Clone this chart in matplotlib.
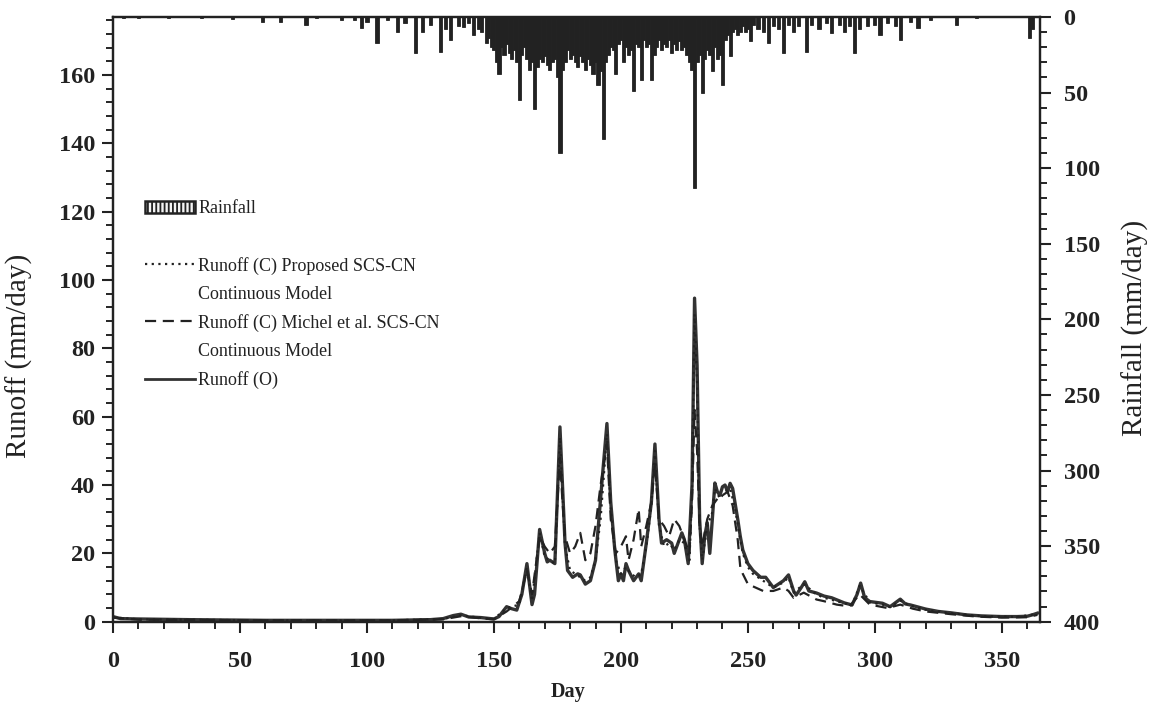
import matplotlib
matplotlib.use("Agg")
import matplotlib.pyplot as plt
from matplotlib.lines import Line2D
from matplotlib.patches import Patch
from matplotlib.ticker import MultipleLocator

plt.rcParams['font.family'] = ['Liberation Serif', 'DejaVu Serif']
plt.rcParams['hatch.linewidth'] = 1.3

# daily rainfall (mm/day), only the days with rain
rain_day = [4, 10, 22, 35, 47, 59, 66, 76, 80, 90, 95, 98, 100, 104, 108, 112, 115, 119, 122,
            125, 129, 131, 133, 136, 138, 140, 142, 144, 145, 147, 148, 149, 150, 151, 152, 153,
            154, 155, 156, 157, 158, 159, 160, 161, 162, 163, 164, 165, 166, 167, 168, 169, 170,
            171, 172, 173, 174, 175, 176, 177, 178, 179, 180, 181, 182, 183, 184, 185, 186, 187,
            188, 189, 190, 191, 192, 193, 194, 195, 196, 197, 198, 199, 200, 201, 202, 203, 204,
            205, 206, 207, 208, 209, 210, 211, 212, 213, 214, 215, 216, 217, 218, 219, 220, 221,
            222, 223, 224, 225, 226, 227, 228, 229, 230, 231, 232, 233, 234, 235, 236, 237, 238,
            239, 240, 241, 242, 243, 244, 245, 246, 247, 248, 249, 250, 251, 252, 254, 256, 258,
            260, 262, 264, 266, 268, 270, 273, 275, 278, 281, 283, 286, 288, 290, 292, 294, 297,
            300, 302, 305, 308, 310, 314, 317, 322, 332, 340, 361, 362]
rain_mm = [1, 1, 1, 1, 1.5, 3, 3, 5, 1, 2, 2, 7, 3, 17, 2, 10, 4, 24, 10,
           5, 23, 8, 15, 6, 6.5, 4, 12, 8, 10, 17, 14, 20, 22, 30, 38, 20,
           25, 18, 24, 28, 22, 30, 55, 25, 20, 28, 35, 30, 61, 33, 28, 30, 26,
           32, 35, 30, 28, 40, 90, 35, 30, 22, 28, 25, 30, 33, 26, 30, 35, 28,
           32, 38, 30, 45, 36, 81, 30, 25, 20, 22, 38, 18, 15, 30, 20, 25, 22,
           49, 18, 20, 42, 15, 20, 18, 42, 25, 20, 15, 22, 18, 20, 15, 24, 18,
           22, 16, 22, 20, 25, 30, 35, 113, 30, 25, 50, 28, 22, 25, 36, 20, 28,
           25, 45, 15, 12, 26, 10, 8, 12, 10, 6, 10, 8, 16, 5, 8, 10, 17,
           6, 8, 24, 5, 10, 6, 23, 5, 8, 4, 10.6, 5, 10, 6, 24, 8, 6,
           5, 12, 4, 6, 15, 3, 7.5, 2, 5, 1, 14, 8]

# observed runoff (mm/day)
obs_day = [0, 3, 10, 30, 60, 90, 110, 125, 130, 134, 137, 140, 145, 150, 152, 155, 157, 159,
           161, 163, 165, 166, 168, 170, 171, 172, 174, 176, 177, 178, 179, 181, 183, 184, 186,
           188, 190, 191, 193, 194.5, 196, 197.6, 199, 200, 201, 202, 203, 205, 207, 208, 210,
           212, 213.4, 215, 216, 218, 220, 221, 222, 224, 225, 226.5, 228, 229, 230, 231, 232,
           233, 234, 235, 236, 237, 238, 239, 240, 241, 242, 243, 244, 246, 247, 248, 250, 252,
           255, 257, 260, 262, 264, 266, 268, 269, 271, 272.4, 274, 277, 280, 283, 285, 288, 291,
           293, 294.4, 296, 298, 303, 306, 308, 310, 312, 314, 320, 325, 330, 336, 342, 350, 356,
           360, 362, 364]
obs_q = [1.5, 0.9, 0.8, 0.6, 0.4, 0.4, 0.4, 0.6, 0.9, 1.8, 2.2, 1.4, 1.2, 0.8, 1.5, 4.4, 3.8, 3.4,
         8, 17, 5, 8, 27, 20, 17.5, 18, 17, 57, 40, 23, 15, 13, 14, 13.7, 11,
         12, 18, 27, 45, 58, 35, 21, 12, 14, 12, 17, 15, 12, 14, 12, 23,
         35, 52, 30, 23, 24, 23, 20, 22, 26, 24, 17, 40, 94.7, 75, 30, 17,
         25, 29, 20, 30, 40.6, 38, 37, 39.5, 40, 38, 40.5, 39, 30, 25, 21, 17, 15,
         13, 13, 10, 11, 12, 13.7, 9, 7.8, 10, 11.7, 9, 8.4, 7.5, 7, 6.4, 5.5, 4.9,
         8, 11.3, 7, 5.9, 5.4, 4.4, 5.5, 6.6, 5.2, 4.9, 3.7, 3, 2.6, 2, 1.7, 1.5, 1.5,
         1.6, 2, 2.5]

# computed runoff, proposed SCS-CN continuous model
prop_day = [0, 10, 60, 110, 130, 137, 145, 150, 155, 160, 163, 165, 168, 170, 172, 174, 176, 177,
            178, 180, 182, 184, 186, 188, 190, 192, 194.5, 196, 198, 200, 202, 204, 206, 208,
            210, 212, 213.4, 215, 217, 219, 221, 223, 225, 227, 228, 229, 230, 231, 232, 234,
            236, 237, 239, 241, 243, 245, 247, 248, 250, 252, 255, 258, 260, 264, 266, 268, 272,
            277, 280, 285, 291, 294, 298, 303, 306, 310, 314, 320, 330, 342, 356, 364]
prop_q = [1.3, 0.7, 0.4, 0.4, 0.8, 1.9, 1.1, 0.8, 4, 5, 16, 6, 26, 19, 18, 17, 54, 38,
          22, 15, 14, 13, 12, 13, 18, 30, 55, 33, 18, 14, 16, 14, 13, 14,
          22, 34, 50, 28, 22, 23, 21, 24, 23, 18, 38, 90, 70, 28, 18, 28,
          32, 39, 36, 38, 39, 33, 24, 20, 16, 14, 12.5, 11, 10, 11.5, 13, 8.5, 11,
          8, 7, 6, 4.8, 10.5, 5.7, 5, 4.3, 6.2, 4.7, 3.5, 2.5, 1.6, 1.4, 2.3]

# computed runoff, Michel et al. SCS-CN continuous model
mich_day = [0, 10, 60, 110, 130, 137, 145, 150, 155, 160, 163, 165, 168, 170, 172, 174, 176, 177,
            178, 180, 182, 184, 186, 188, 190, 192, 194.5, 196, 198, 200, 202, 203, 205, 207,
            208, 210, 212, 213.4, 215, 217, 219, 221, 223, 225, 227, 228, 229, 230, 231, 232,
            234, 236, 238, 240, 242, 244, 246, 247, 248, 250, 253, 256, 260, 264, 266, 268, 272,
            277, 280, 285, 290, 294, 298, 305, 310, 315, 320, 330, 340, 350, 360, 364]
mich_q = [1.2, 0.6, 0.4, 0.4, 0.7, 1.6, 1.0, 0.7, 3, 6, 15, 8, 25, 22, 20, 22, 48, 35,
          25, 20, 22, 26, 18, 20, 28, 40, 52, 30, 20, 22, 25, 18, 24, 33,
          22, 28, 35, 46, 30, 28, 25, 30, 28, 24, 20, 35, 62, 50, 28, 22,
          30, 34, 36, 37, 38, 34, 24, 16, 14, 11, 10, 9, 9, 10, 9, 7, 8.5,
          6.5, 6, 5, 4.5, 8, 5, 4, 5, 3.8, 3, 2.2, 1.5, 1.2, 1.3, 2]

ink = '#222222'

fig = plt.figure(figsize=(11.49, 7.16), dpi=100)
ax = fig.add_axes([0.0983, 0.1317, 0.8068, 0.8446])
ax2 = ax.twinx()

ax.plot(obs_day, obs_q, color='#333333', lw=2.4, ls='-', zorder=2)
ax.plot(mich_day, mich_q, color=ink, lw=1.6, ls=(0, (5, 3)), zorder=3)
ax.plot(prop_day, prop_q, color=ink, lw=1.6, ls=(0, (1, 2)), zorder=4)

ax2.bar(rain_day, rain_mm, width=1.25, color=ink, edgecolor=ink, linewidth=0.6)

ax.set_xlim(0, 365)
ax.set_ylim(0, 177)
ax2.set_ylim(400, 0)

ax.xaxis.set_major_locator(MultipleLocator(50))
ax.xaxis.set_minor_locator(MultipleLocator(10))
ax.yaxis.set_major_locator(MultipleLocator(20))
ax.yaxis.set_minor_locator(MultipleLocator(4))
ax2.yaxis.set_major_locator(MultipleLocator(50))
ax2.yaxis.set_minor_locator(MultipleLocator(10))

for a in (ax, ax2):
    for s in a.spines.values():
        s.set_linewidth(1.6)
        s.set_color(ink)

ax.tick_params(axis='x', which='major', direction='out', length=8, width=1.5, pad=13,
               labelsize=17.5, colors=ink)
ax.tick_params(axis='x', which='minor', direction='out', length=5, width=1.2)
ax.tick_params(axis='y', which='major', direction='out', length=8, width=1.5, pad=5,
               labelsize=17.5, colors=ink)
ax.tick_params(axis='y', which='minor', direction='out', length=5, width=1.2)
ax2.tick_params(axis='y', which='major', direction='out', length=8, width=1.5, pad=9,
                labelsize=17.5, colors=ink)
ax2.tick_params(axis='y', which='minor', direction='out', length=5, width=1.2)
for lab in ax.get_xticklabels() + ax.get_yticklabels() + ax2.get_yticklabels():
    lab.set_fontweight('bold')

ax.set_xlabel('Day', fontsize=14.5, fontweight='bold', color=ink)
ax.set_ylabel('Runoff (mm/day)', fontsize=21, color=ink)
ax2.set_ylabel('Rainfall (mm/day)', fontsize=21, color=ink, rotation=90)
ax.xaxis.set_label_coords(0.491, -0.10)
ax.yaxis.set_label_coords(-0.086, 0.44)
ax2.yaxis.set_label_coords(1.088, 0.486)

blank = Line2D([], [], ls='none')
handles = [
    Patch(facecolor='#f4f4f4', edgecolor=ink, hatch='||||', lw=1.8),
    blank,
    Line2D([], [], color=ink, lw=1.6, ls=(0, (1, 2))),
    blank,
    Line2D([], [], color=ink, lw=1.6, ls=(0, (5, 3))),
    blank,
    Line2D([], [], color='#333333', lw=2.0, ls='-'),
]
labels = ['Rainfall', ' ', 'Runoff (C) Proposed SCS-CN', 'Continuous Model',
          'Runoff (C) Michel et al. SCS-CN', 'Continuous Model', 'Runoff (O)']
leg = ax2.legend(handles, labels, loc='upper left', bbox_to_anchor=(0.0345, 0.697),
                 frameon=False, fontsize=13, handlelength=2.8, handleheight=0.7,
                 handletextpad=0.15, labelspacing=0.62, borderpad=0, borderaxespad=0)
for t in leg.get_texts():
    t.set_color(ink)

fig.savefig('out.png', dpi=100)
